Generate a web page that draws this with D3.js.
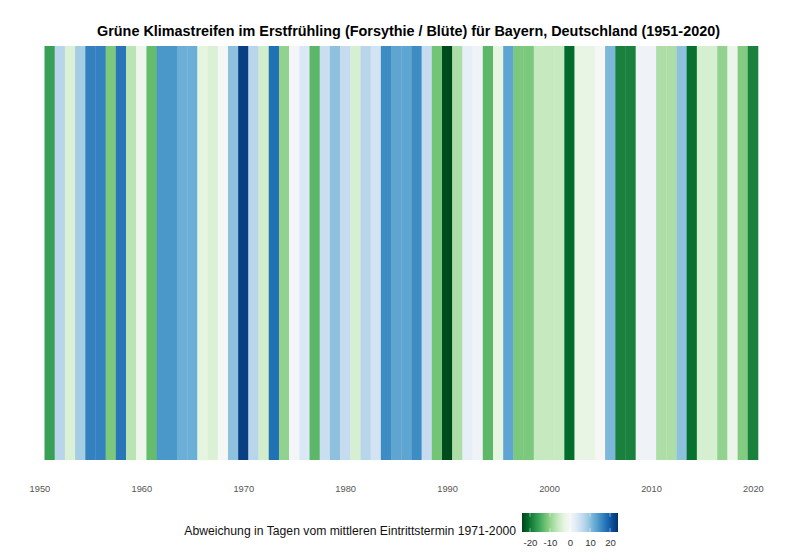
<!DOCTYPE html>
<html>
<head>
<meta charset="utf-8">
<script src="https://cdn.jsdelivr.net/npm/d3@7"></script>
<style>
  html, body { margin: 0; padding: 0; background: #fff; }
  svg { display: block; }
  text { font-family: "Liberation Sans", Arial, sans-serif; }
</style>
</head>
<body>
<svg id="chart" width="800" height="560"></svg>
<script>
const titleText = 'Grüne Klimastreifen im Erstfrühling (Forsythie / Blüte) für Bayern, Deutschland (1951-2020)';
const legendTitle = 'Abweichung in Tagen vom mittleren Eintrittstermin 1971-2000';

const years = d3.range(1951, 2021);
const deviations = [
  -16, 7, -4, 8.5, 16.5, 16.5, -11.5, 17.5, -7, -1.5,
  -13, 14.5, 14.5, 12, 12, -3, -4, -0.5, 10, 22.5,
  7, -5, 18, -10, 0.5, 3.5, -13.5, 5.5, 10, 6,
  -4.5, 7, 4.5, 15.5, 13, 13, 15.5, 6, -12, -23.5,
  -8, 2, 1, -13.5, -3, 13, -11.5, -11.5, -6, -6,
  -6, -21, -2.5, -2.5, -0.2, 11, -19, -19, 1, 1,
  -8, -8, 10, -20.5, -4.5, -4.5, -10, -2, -11, -19
];
const yearTicks = [1950, 1960, 1970, 1980, 1990, 2000, 2010, 2020];
const legendTicks = [-20, -10, 0, 10, 20];
const legendDomain = [-24, 24];
const palette = [
  '#00441b', '#006d2c', '#238b45', '#41ab5d', '#74c476', '#a1d99b', '#c7e9c0', '#e5f5e0',
  '#f7f7f7',
  '#deebf7', '#c6dbef', '#9ecae1', '#6baed6', '#4292c6', '#2171b5', '#08519c', '#08306b'
];

const svg = d3.select('#chart');

const x = d3.scaleLinear().domain([1950.5, 2020.5]).range([44.5, 758]);
const color = d3.scaleLinear()
  .domain(d3.quantize(d3.interpolate(legendDomain[0], legendDomain[1]), palette.length))
  .range(palette)
  .interpolate(d3.interpolateLab);

svg.append('text')
  .attr('x', 408.5)
  .attr('y', 36)
  .attr('text-anchor', 'middle')
  .attr('font-size', 14.4)
  .attr('font-weight', 'bold')
  .attr('fill', '#000')
  .text(titleText);

const stripTop = 46;
const stripBottom = 460;

// bars overlap by a hair, otherwise antialiasing leaves seams
svg.append('g').selectAll('rect')
  .data(years)
  .enter()
  .append('rect')
  .attr('x', d => x(d - 0.5))
  .attr('y', stripTop)
  .attr('width', d => x(d + 0.5) - x(d - 0.5) + 0.3)
  .attr('height', stripBottom - stripTop)
  .attr('fill', (d, i) => color(deviations[i]));

const xAxis = svg.append('g')
  .attr('transform', `translate(0,${stripBottom})`)
  .call(d3.axisBottom(x).tickValues(yearTicks).tickFormat(d3.format('d')).tickSize(0).tickPadding(25));
xAxis.select('.domain').remove();
xAxis.selectAll('text')
  .attr('font-size', 9.3)
  .attr('font-family', '"Liberation Sans", Arial, sans-serif')
  .attr('fill', '#555');

// legend
const legendX = d3.scaleLinear().domain(legendDomain).range([522, 618]);
const legendTop = 513;
const legendBottom = 532;

const gradient = svg.append('defs').append('linearGradient')
  .attr('id', 'legend-gradient')
  .attr('x1', '0%').attr('x2', '100%')
  .attr('y1', '0%').attr('y2', '0%');
gradient.selectAll('stop')
  .data(d3.range(legendDomain[0], legendDomain[1] + 1))
  .enter()
  .append('stop')
  .attr('offset', d => `${(d - legendDomain[0]) / (legendDomain[1] - legendDomain[0]) * 100}%`)
  .attr('stop-color', d => color(d));

svg.append('rect')
  .attr('x', legendX.range()[0])
  .attr('y', legendTop)
  .attr('width', legendX.range()[1] - legendX.range()[0])
  .attr('height', legendBottom - legendTop)
  .attr('fill', 'url(#legend-gradient)');

const tickLen = 3.8;
svg.append('g').selectAll('line')
  .data(legendTicks.flatMap(d => [[d, legendTop, legendTop + tickLen], [d, legendBottom - tickLen, legendBottom]]))
  .enter()
  .append('line')
  .attr('x1', d => legendX(d[0]))
  .attr('x2', d => legendX(d[0]))
  .attr('y1', d => d[1])
  .attr('y2', d => d[2])
  .attr('stroke', '#fff')
  .attr('stroke-width', 0.5);

const legendAxis = svg.append('g')
  .attr('transform', `translate(0,${legendBottom})`)
  .call(d3.axisBottom(legendX).tickValues(legendTicks).tickSize(0).tickPadding(7).tickFormat(d => d));
legendAxis.select('.domain').remove();
legendAxis.selectAll('text')
  .attr('font-size', 9.6)
  .attr('font-family', '"Liberation Sans", Arial, sans-serif')
  .attr('fill', '#333');

svg.append('text')
  .attr('x', 516)
  .attr('y', 535)
  .attr('text-anchor', 'end')
  .attr('font-size', 12.2)
  .attr('fill', '#111')
  .text(legendTitle);
</script>
</body>
</html>
